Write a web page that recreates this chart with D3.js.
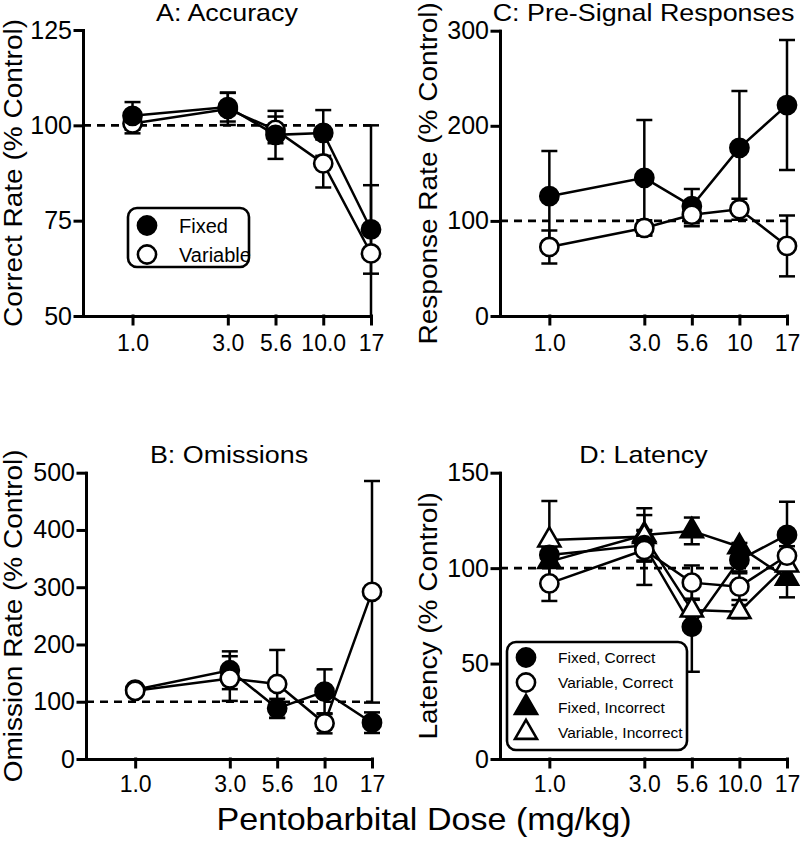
<!DOCTYPE html>
<html>
<head>
<meta charset="utf-8">
<script src="https://cdn.jsdelivr.net/npm/d3@7"></script>
<style>
  body { margin: 0; background: #fff; }
  svg { font-family: "Liberation Sans", Arial, sans-serif; }
  .axis path, .axis line { stroke: #000; stroke-width: 3; stroke-linecap: square; }
  .axis text { fill: #000; }
  .axis--x text { font-size: 23px; }
  .axis--y text { font-size: 25px; }
</style>
</head>
<body>
<svg id="chart" width="800" height="845"></svg>
<script>
// nominal half-log dose steps and their printed labels
var doses = [1, 3.16, 5.62, 10, 17.8]
var labelsA = ["1.0", "3.0", "5.6", "10.0", "17"]
var labelsB = ["1.0", "3.0", "5.6", "10", "17"]
var labelsC = ["1.0", "3.0", "5.6", "10", "17"]
var labelsD = ["1.0", "3.0", "5.6", "10.0", "17"]

// A: accuracy
var accFixed = [102.5, 104.8, 97.5, 98, 72.7]
var accFixedSem = [3.6, 3.8, 6.3, 6, 11.6]
var accVariable = [100.5, 104.3, 98.8, 90, 66.4]
var accVariableSem = [2.6, 4.2, 3.5, 6.3, 33.6]

// C: pre-signal responses
var preFixed = [126, 145.3, 115.5, 176.8, 221.8]
var preFixedSem = [47.4, 60.7, 18, 59.7, 68.4]
var preVariable = [72.6, 92.6, 106.5, 112.3, 73.7]
var preVariableSem = [17.4, 8, 12, 11, 32]

// B: omissions
var omFixed = [121, 155, 88.5, 117.6, 63.4]
var omFixedSem = [5, 33, 16.5, 39, 18]
var omVariable = [119, 140.5, 131, 62.3, 292]
var omVariableSem = [5, 39, 59.4, 17.5, 193.5]

// D: latency
var latFixedCorrect = [106.9, 112, 69.3, 104.3, 117.4]
var latFixedCorrectSem = [4, 8, 23.6, 6, 17.4]
var latVariableCorrect = [92, 109.5, 92.4, 90.3, 106.5]
var latVariableCorrectSem = [9.2, 18.3, 9, 7, 5]
var latFixedIncorrect = [103.4, 117.4, 119.5, 111.2, 94.7]
var latFixedIncorrectSem = [3, 14, 7, 2, 10]
var latVariableIncorrect = [114.7, 116.5, 78, 77.2, 101.6]
var latVariableIncorrectSem = [20.5, 3, 6, 3.5, 3]

var svg = d3.select('#chart')

var fixed = {shape: d3.symbolCircle, fill: '#000'}
var open = {shape: d3.symbolCircle, fill: '#fff'}
var fixedTri = {shape: d3.symbolTriangle, fill: '#000'}
var openTri = {shape: d3.symbolTriangle, fill: '#fff'}

// the title lettering in the original is a bit wider than Arial
var STRETCH = 1.12

var panels = [
  {id: 'a', title: 'A: Accuracy', ylabel: 'Correct Rate (% Control)',
   x0: 83, x1: 371, top: 30, bottom: 316, titleY: 20.5, labelX: 22, tickPad: 11,
   ydomain: [50, 125], yticks: [50, 75, 100, 125], xlabels: labelsA,
   series: [
     Object.assign({v: accVariable, e: accVariableSem, name: 'Variable'}, open),
     Object.assign({v: accFixed, e: accFixedSem, name: 'Fixed'}, fixed)
   ],
   legend: {x: 128, y: 208, w: 121, h: 59, font: 20, rows: 29, order: [1, 0]}},
  {id: 'c', title: 'C: Pre-Signal Responses', ylabel: 'Response Rate (% Control)',
   x0: 500, x1: 787, top: 30.7, bottom: 316, titleY: 20.5, labelX: 437, tickPad: 11,
   ydomain: [0, 300], yticks: [0, 100, 200, 300], xlabels: labelsC,
   series: [
     Object.assign({v: preFixed, e: preFixedSem}, fixed),
     Object.assign({v: preVariable, e: preVariableSem}, open)
   ]},
  {id: 'b', title: 'B: Omissions', ylabel: 'Omission Rate (% Control)',
   x0: 86, x1: 372, top: 472.7, bottom: 759, titleY: 463, labelX: 22, tickPad: 9,
   ydomain: [0, 500], yticks: [0, 100, 200, 300, 400, 500], xlabels: labelsB,
   series: [
     Object.assign({v: omFixed, e: omFixedSem}, fixed),
     Object.assign({v: omVariable, e: omVariableSem}, open)
   ]},
  {id: 'd', title: 'D: Latency', ylabel: 'Latency (% Control)',
   x0: 500, x1: 787, top: 472.7, bottom: 759, titleY: 463, labelX: 437, tickPad: 9,
   ydomain: [0, 150], yticks: [0, 50, 100, 150], xlabels: labelsD,
   series: [
     Object.assign({v: latFixedIncorrect, e: latFixedIncorrectSem, name: 'Fixed, Incorrect'}, fixedTri),
     Object.assign({v: latVariableIncorrect, e: latVariableIncorrectSem, name: 'Variable, Incorrect'}, openTri),
     Object.assign({v: latFixedCorrect, e: latFixedCorrectSem, name: 'Fixed, Correct'}, fixed),
     Object.assign({v: latVariableCorrect, e: latVariableCorrectSem, name: 'Variable, Correct'}, open)
   ],
   legend: {x: 507, y: 642, w: 180, h: 108, font: 15.5, rows: 25, order: [2, 3, 0, 1]}}
]

function symbolSize(s){ return s.shape === d3.symbolTriangle ? 210 : 260 }

panels.forEach(function(p){
  var x = d3.scaleLog().domain([0.55, 17.8]).range([p.x0, p.x1])
  var y = d3.scaleLinear().domain(p.ydomain).range([p.bottom, p.top])

  var g = svg.append('g').attr('class', 'panel panel-' + p.id)

  g.append('clipPath').attr('id', 'clip-' + p.id)
    .append('rect')
    .attr('x', p.x0).attr('y', p.top - 12)
    .attr('width', p.x1 - p.x0 + 20).attr('height', p.bottom - p.top + 12)

  // reference line at 100%
  g.append('line')
    .attr('x1', p.x0).attr('x2', p.x1)
    .attr('y1', y(100)).attr('y2', y(100))
    .attr('stroke', '#000').attr('stroke-width', 2.6)
    .attr('stroke-dasharray', '8,6')

  var plot = g.append('g').attr('clip-path', 'url(#clip-' + p.id + ')')

  var line = d3.line().x((d, i) => x(doses[i])).y(d => y(d))

  plot.selectAll('.series-line').data(p.series).enter()
    .append('path')
    .attr('class', 'series-line')
    .attr('d', s => line(s.v))
    .attr('fill', 'none').attr('stroke', '#000').attr('stroke-width', 2.5)

  p.series.forEach(function(s){
    var pts = s.v.map((v, i) => ({x: x(doses[i]), hi: y(v + s.e[i]), lo: y(v - s.e[i])}))
    var eb = plot.append('g').attr('stroke', '#000').attr('stroke-width', 2.5)
    eb.selectAll('.stem').data(pts).enter().append('line')
      .attr('x1', d => d.x).attr('x2', d => d.x)
      .attr('y1', d => d.hi).attr('y2', d => d.lo)
    eb.selectAll('.cap-hi').data(pts).enter().append('line')
      .attr('x1', d => d.x - 8).attr('x2', d => d.x + 8)
      .attr('y1', d => d.hi).attr('y2', d => d.hi)
    eb.selectAll('.cap-lo').data(pts).enter().append('line')
      .attr('x1', d => d.x - 8).attr('x2', d => d.x + 8)
      .attr('y1', d => d.lo).attr('y2', d => d.lo)
  })

  p.series.forEach(function(s){
    g.append('g').selectAll('path').data(s.v).enter()
      .append('path')
      .attr('transform', (d, i) => `translate(${[x(doses[i]), y(d)]})`)
      .attr('d', d3.symbol().type(s.shape).size(symbolSize(s)))
      .attr('fill', s.fill).attr('stroke', '#000').attr('stroke-width', 2.6)
  })

  var xAxis = d3.axisBottom(x)
    .tickValues(doses)
    .tickFormat((d, i) => p.xlabels[i])
    .tickSizeInner(8).tickSizeOuter(0).tickPadding(p.tickPad)
  g.append('g').attr('class', 'axis axis--x')
    .attr('transform', `translate(0,${p.bottom})`)
    .call(xAxis)

  var yAxis = d3.axisLeft(y)
    .tickValues(p.yticks)
    .tickSizeInner(8).tickSizeOuter(0).tickPadding(3)
  g.append('g').attr('class', 'axis axis--y')
    .attr('transform', `translate(${p.x0},0)`)
    .call(yAxis)

  g.append('text')
    .attr('transform', `translate(${(p.x0 + p.x1) / 2},${p.titleY}) scale(${STRETCH},1)`)
    .attr('text-anchor', 'middle').attr('font-size', 24)
    .text(p.title)

  g.append('text')
    .attr('transform', `translate(${p.labelX},${(p.top + p.bottom) / 2}) rotate(-90) scale(${STRETCH},1)`)
    .attr('text-anchor', 'middle').attr('font-size', 25)
    .text(p.ylabel)

  if (p.legend) {
    var L = p.legend
    var lg = g.append('g').attr('class', 'legend')
    lg.append('rect')
      .attr('x', L.x).attr('y', L.y).attr('width', L.w).attr('height', L.h)
      .attr('rx', 9).attr('fill', '#fff').attr('stroke', '#000').attr('stroke-width', 2.6)
    var rows = lg.selectAll('.row').data(L.order.map(k => p.series[k])).enter()
      .append('g').attr('class', 'row')
      .attr('transform', (s, i) => `translate(${L.x + 19},${L.y + L.rows / 2 + 3 + i * L.rows})`)
    rows.append('path')
      .attr('d', s => d3.symbol().type(s.shape).size(symbolSize(s))())
      .attr('fill', s => s.fill).attr('stroke', '#000').attr('stroke-width', 2.6)
    rows.append('text')
      .attr('x', 32).attr('dy', '0.35em')
      .attr('font-size', L.font)
      .text(s => s.name)
  }
})

svg.append('text')
  .attr('transform', `translate(424,830) scale(1.1,1)`)
  .attr('text-anchor', 'middle').attr('font-size', 31)
  .text('Pentobarbital Dose (mg/kg)')
</script>
</body>
</html>
